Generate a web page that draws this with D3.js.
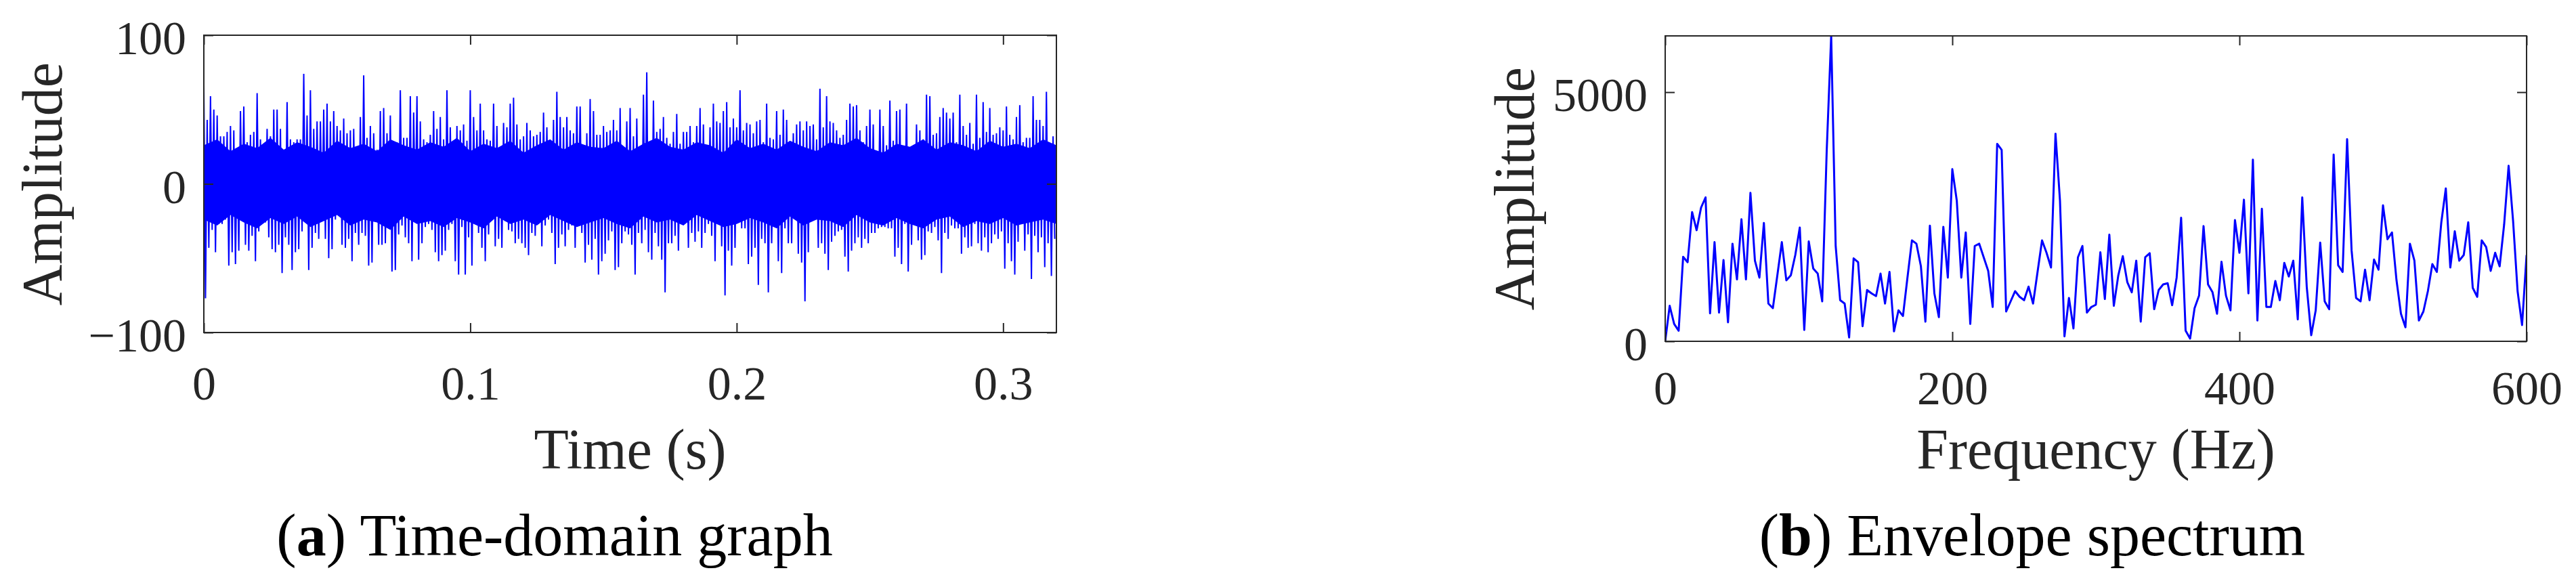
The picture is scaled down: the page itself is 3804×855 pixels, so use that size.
<!DOCTYPE html>
<html>
<head>
<meta charset="utf-8">
<script src="https://cdn.jsdelivr.net/npm/d3@7"></script>
<style>
  body { margin: 0; background: #fff; }
  svg text { font-family: "Liberation Serif", "Times New Roman", serif; }
</style>
</head>
<body>
<svg id="fig"></svg>
<script>
// ---- data ----
// (a) time signal: upper and lower spike tips, one pair every 1.25 ms
const sigDt = 0.00125;
const sigTop = [
  67,43,59,50,46,32,32,35,39,36, 23,49,52,28,33,35,61,30,25,37,
  32,50,50,37,17,55,30,28,30,30, 74,46,63,37,42,42,50,54,42,49,
  39,36,44,34,36,37,12,45,73,31, 39,34,23,49,51,34,46,27,28,63,
  31,31,59,48,59,42,30,28,33,49, 37,45,30,63,38,26,39,36,40,29,
  63,45,36,54,36,30,
  29,54,39,24,41,38,54,58,40,30, 32,41,36,32,33,35,48,38,28,43,
  62,45,38,45,36,34,52,52,19,34, 57,49,33,33,39,35,36,43,36,51,
  22,42,51,32,44,23,60,75,27,56, 35,37,45,31,27,35,47,27,35,35,
  39,28,39,51,40,26,38,54,42,41, 49,55,38,44,38,63,36,41,40,34,
  42,43,28,54,31,
  30,49,33,50,43,26,34,40,42,36, 42,39,40,30,64,38,59,42,41,36,
  31,33,43,54,52,53,36,28,39,50, 40,20,50,39,26,56,29,49,50,24,
  54,24,23,40,36,30,60,59,33,34, 45,51,48,44,48,28,60,39,33,41,
  27,60,31,55,35,51,33,34,38,36, 52,33,30,45,53,28,31,31,59,43,
  43,39,62,27,32
];
const sigBottom = [
  -77,-43,-31,-46,-27,-27,-24,-55,-46,-54, -45,-22,-41,-45,-35,-52,-32,-27,-26,-36,
  -44,-46,-41,-60,-36,-41,-58,-46,-44,-32, -25,-58,-43,-33,-37,-20,-37,-50,-44,-24,
  -21,-41,-43,-37,-52,-33,-41,-33,-35,-55, -53,-21,-41,-41,-40,-28,-59,-58,-34,-28,
  -36,-40,-52,-21,-51,-40,-29,-27,-31,-46, -52,-48,-45,-31,-27,-52,-61,-29,-61,-36,
  -55,-18,-33,-43,-52,-34,
  -24,-42,-37,-43,-25,-31,-32,-40,-37,-40, -43,-48,-33,-35,-27,-42,-28,-24,-33,-54,
  -43,-34,-42,-31,-28,-43,-23,-33,-53,-41, -51,-37,-61,-52,-47,-38,-32,-58,-56,-40,
  -32,-34,-41,-61,-33,-40,-31,-46,-51,-33, -42,-51,-73,-40,-40,-35,-45,-24,-24,-43,
  -33,-39,-32,-43,-33,-27,-35,-52,-19,-42, -75,-45,-55,-43,-25,-30,-30,-54,-49,-43,
  -68,-37,-40,-73,-40,
  -28,-52,-60,-30,-40,-40,-22,-47,-53,-79, -46,-20,-24,-43,-40,-47,-58,-39,-35,-32,
  -31,-49,-59,-45,-40,-36,-43,-37,-40,-33, -33,-30,-29,-29,-30,-30,-49,-43,-54,-27,
  -59,-41,-27,-38,-51,-48,-32,-33,-29,-38, -60,-33,-37,-28,-30,-30,-47,-36,-43,-42,
  -27,-40,-45,-36,-46,-40,-34,-37,-32,-57, -40,-52,-61,-39,-26,-45,-34,-64,-35,-46,
  -36,-56,-40,-62,-37
];
// edge of the solid part of the band, every 5 ms
const coreDt = 0.005;
const coreHi = [
  26,30,22,27,24,31,23,28,25,21, 29,24,27,22,30,26,23,28,25,31,
  22,27,24,29,21,26,30,23,28,25, 24,29,22,27,31,25,23,28,26,21,
  30,24,27,23,29,25,22,28,26,31, 24,21,27,25,30,23,28,26,22,29,
  25,27,24,30,26
];
const coreLo = [
  -24,-28,-21,-26,-30,-23,-27,-22,-29,-25, -21,-28,-24,-26,-31,-22,-27,-25,-29,-23,
  -26,-30,-22,-27,-24,-28,-21,-25,-29,-26, -23,-27,-30,-22,-26,-24,-28,-21,-25,-29,
  -27,-23,-26,-30,-22,-28,-24,-25,-29,-21, -26,-28,-23,-27,-30,-24,-22,-29,-25,-27,
  -23,-28,-26,-24,-27
];
const timeTicks = [0, 0.1, 0.2, 0.3];
const ampTicks = [-100, 0, 100];

// (b) envelope spectrum, one bin every 3.125 Hz from 0 to 600 Hz
const specDf = 3.125;
const specAmp = [
  0,712,349,213,1695,1587,2593,2230,2684,2888, 562,1990,576,1632,381,1958,1242,2448,1242,2978,
  1618,1278,2375,757,666,1324,1990,1224,1324,1732, 2284,227,2004,1460,1360,802,3817,6129,1913,825,
  757,77,1664,1587,304,1029,961,907,1360,757, 1392,199,621,508,1278,2026,1958,1505,394,2321,
  961,485,2298,1278,3454,2820,1278,2185,349,1913, 1958,1686,1414,689,3962,3840,598,802,1006,893,
  825,1097,757,1392,2026,1777,1482,4166,2820,100, 870,258,1686,1913,576,689,734,1786,848,2140,
  712,1324,1709,1188,984,1618,394,1686,1768,644, 1029,1142,1165,725,1278,2480,213,54,666,916,
  2312,1142,984,553,1596,916,621,2434,1777,2842, 961,3645,417,2661,689,689,1210,825,1573,1301,
  1618,440,2888,1097,122,621,1981,802,644,3749, 1528,1392,4057,1822,870,802,1437,825,1641,1437,
  2729,2049,2185,1233,553,281,1958,1618,417,598, 1006,1550,1392,2389,3069,1482,2208,1618,1732,2389,
  1074,893,2026,1890,1414,1777,1505,2344,3522,2412, 1006,326,1732
];
const freqTicks = [0, 200, 400, 600];
const specTicks = [0, 5000];

// ---- drawing ----
const W = 3804, H = 855;
const ink = "#262626";
const serif = '"Liberation Serif", "Times New Roman", serif';
const svg = d3.select("#fig").attr("width", W).attr("height", H)
    .attr("font-family", serif);
svg.append("rect").attr("width", W).attr("height", H).attr("fill", "#fff");

function panel(opt) {
    const { x, y, id } = opt;
    const [x0, x1] = x.range();
    const [y1, y0] = y.range();

    svg.append("clipPath").attr("id", id)
        .append("rect").attr("x", x0).attr("y", y0).attr("width", x1 - x0).attr("height", y1 - y0);

    const plot = svg.append("g").attr("clip-path", `url(#${id})`);
    opt.draw(plot);

    // inner ticks on all four sides, labels only bottom / left
    svg.append("g").attr("transform", `translate(0,${y1})`)
        .call(d3.axisBottom(x).tickValues(opt.xTicks).tickSize(-14).tickFormat(opt.xFormat))
        .attr("font-family", serif)
        .call(g => g.select(".domain").remove())
        .call(g => g.selectAll("line").attr("stroke", ink).attr("stroke-width", 2))
        .call(g => g.selectAll("text").attr("y", opt.xLabelY).attr("dy", 0)
            .style("font-family", serif).attr("font-size", 70).attr("fill", ink));
    svg.append("g").attr("transform", `translate(0,${y0})`)
        .call(d3.axisTop(x).tickValues(opt.xTicks).tickSize(-14).tickFormat(""))
        .call(g => g.select(".domain").remove())
        .call(g => g.selectAll("line").attr("stroke", ink).attr("stroke-width", 2));
    svg.append("g").attr("transform", `translate(${x0},0)`)
        .call(d3.axisLeft(y).tickValues(opt.yTicks).tickSize(-14).tickPadding(26).tickFormat(d3.format("d")))
        .attr("font-family", serif)
        .call(g => g.select(".domain").remove())
        .call(g => g.selectAll("line").attr("stroke", ink).attr("stroke-width", 2))
        .call(g => g.selectAll("text").attr("y", 3).attr("dy", "0.35em")
            .style("font-family", serif).attr("font-size", 70).attr("fill", ink));
    svg.append("g").attr("transform", `translate(${x1},0)`)
        .call(d3.axisRight(y).tickValues(opt.yTicks).tickSize(-14).tickFormat(""))
        .call(g => g.select(".domain").remove())
        .call(g => g.selectAll("line").attr("stroke", ink).attr("stroke-width", 2));

    svg.append("rect")
        .attr("x", x0).attr("y", y0).attr("width", x1 - x0).attr("height", y1 - y0)
        .attr("fill", "none").attr("stroke", ink).attr("stroke-width", 2);

    svg.append("text")
        .attr("transform", `translate(${opt.yLabelX},${(y0 + y1) / 2}) rotate(-90)`)
        .attr("text-anchor", "middle").attr("font-size", 84).attr("fill", ink)
        .style("font-family", serif)
        .text("Amplitude");
    svg.append("text")
        .attr("x", (x0 + x1) / 2).attr("y", 692)
        .attr("text-anchor", "middle").attr("font-size", 84).attr("fill", ink)
        .style("font-family", serif)
        .text(opt.xLabel);

    const cap = svg.append("text")
        .attr("x", opt.capX).attr("y", 820)
        .attr("text-anchor", "middle").attr("font-size", 88).attr("fill", "#000")
        .style("font-family", serif);
    cap.append("tspan").text("(");
    cap.append("tspan").attr("font-weight", "bold").text(opt.capLetter);
    cap.append("tspan").text(") " + opt.caption);
}

// (a) time-domain graph
const xt = d3.scaleLinear().domain([0, 0.32]).range([301, 1560]);
const yt = d3.scaleLinear().domain([-100, 100]).range([491, 52]);
const sigPts = [];
sigTop.forEach((v, i) => {
    sigPts.push([i * sigDt, v]);
    sigPts.push([i * sigDt + sigDt / 2, sigBottom[i]]);
});

panel({
    id: "clipA", x: xt, y: yt,
    xTicks: timeTicks, yTicks: ampTicks,
    xFormat: d => d === 0 ? "0" : d3.format(".1f")(d),
    xLabelY: 99, yLabelX: 91,
    xLabel: "Time (s)", capX: 819, capLetter: "a", caption: "Time-domain graph",
    draw: g => {
        g.append("path")
            .datum(coreHi.map((v, i) => [i * coreDt, v, coreLo[i]]))
            .attr("fill", "#0000ff")
            .attr("d", d3.area().x(d => xt(d[0])).y0(d => yt(d[2])).y1(d => yt(d[1])));
        g.append("path")
            .datum(sigPts)
            .attr("fill", "none").attr("stroke", "#0000ff").attr("stroke-width", 2)
            .attr("d", d3.line().x(d => xt(d[0])).y(d => yt(d[1])));
    }
});

// (b) envelope spectrum
const xf = d3.scaleLinear().domain([0, 600]).range([2459, 3731]);
const yf = d3.scaleLinear().domain([0, d3.max(specAmp)]).range([504, 53]);

panel({
    id: "clipB", x: xf, y: yf,
    xTicks: freqTicks, yTicks: specTicks,
    xFormat: d3.format("d"),
    xLabelY: 93, yLabelX: 2265,
    xLabel: "Frequency (Hz)", capX: 3001, capLetter: "b", caption: "Envelope spectrum",
    draw: g => {
        g.append("path")
            .datum(specAmp)
            .attr("fill", "none").attr("stroke", "#0000ff").attr("stroke-width", 3)
            .attr("stroke-linejoin", "round")
            .attr("d", d3.line().x((d, i) => xf(i * specDf)).y(d => yf(d)));
    }
});
</script>
</body>
</html>
